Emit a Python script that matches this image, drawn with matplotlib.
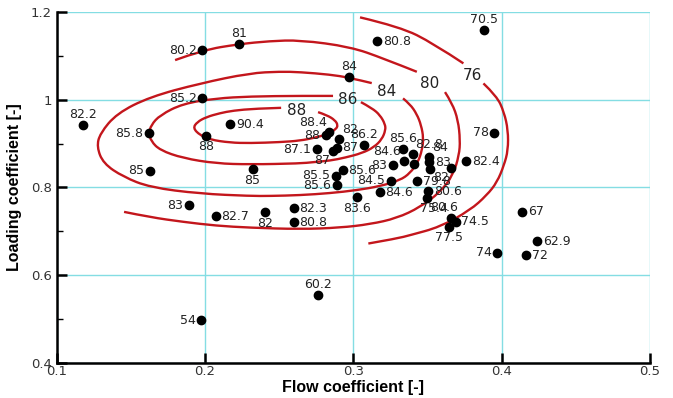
import matplotlib
matplotlib.use("Agg")
import matplotlib.pyplot as plt
from matplotlib.path import Path
from matplotlib.patches import PathPatch
from matplotlib.ticker import MultipleLocator, FormatStrFormatter, FuncFormatter

# measured points: flow coefficient, loading coefficient, efficiency label
phi = [0.388, 0.316, 0.297, 0.198, 0.223, 0.198, 0.1175, 0.162, 0.217, 0.2007,
       0.163, 0.232, 0.189, 0.2074, 0.2403, 0.2598, 0.2598,
       0.2838, 0.2814, 0.2906, 0.2753, 0.2888, 0.2861, 0.3072,
       0.2929, 0.2883, 0.2888, 0.3252, 0.3023, 0.318,
       0.3337, 0.340, 0.3342, 0.3266, 0.3406, 0.3511, 0.3513, 0.3517, 0.3659,
       0.376, 0.3949, 0.3432, 0.3506, 0.3499, 0.3657, 0.369, 0.3647,
       0.414, 0.424, 0.4165, 0.3971, 0.2762, 0.1973]
psi = [1.158, 1.133, 1.052, 1.113, 1.127, 1.003, 0.942, 0.923, 0.944, 0.917,
       0.838, 0.841, 0.759, 0.734, 0.743, 0.752, 0.721,
       0.926, 0.919, 0.910, 0.887, 0.890, 0.883, 0.897,
       0.839, 0.826, 0.805, 0.815, 0.777, 0.789,
       0.887, 0.877, 0.860, 0.851, 0.854, 0.870, 0.857, 0.843, 0.845,
       0.860, 0.925, 0.814, 0.791, 0.775, 0.730, 0.722, 0.710,
       0.744, 0.677, 0.645, 0.651, 0.554, 0.497]
eff = ["70.5", "80.8", "84", "80.2", "81", "85.2", "82.2", "85.8", "90.4", "88",
       "85", "85", "83", "82.7", "82", "82.3", "80.8",
       "88.4", "88", "82", "87.1", "87", "87", "86.2",
       "85.6", "85.5", "85.6", "84.5", "83.6", "84.6",
       "85.6", "82.8", "84.6", "83", "", "84", "83", "82", "",
       "82.4", "78", "79.8", "80.6", "80.6", "75.4", "74.5", "77.5",
       "67", "62.9", "72", "74", "60.2", "54"]
where = ["t", "r", "t", "l", "t", "l", "t", "l", "r", "b",
         "l", "b", "l", "r", "b", "r", "r",
         "tl", "l", "tr", "l", "r", "bl", "t",
         "r", "l", "l", "l", "b", "r",
         "t", "tr", "tl", "l", "", "tr", "r", "br", "",
         "r", "l", "r", "r", "br", "tl", "r", "b",
         "r", "r", "r", "l", "t", "l"]

c88_x = [0.2762, 0.2822, 0.2876, 0.2896, 0.2883, 0.2829, 0.2742, 0.2641, 0.2506, 0.2303,
         0.2168, 0.2034, 0.1966, 0.1919, 0.1946, 0.2007, 0.2101, 0.2189, 0.2337, 0.2513]
c88_y = [0.9717, 0.9648, 0.9534, 0.9420, 0.9329, 0.9215, 0.9135, 0.9066, 0.9032, 0.9009,
         0.9021, 0.9089, 0.9192, 0.9352, 0.9489, 0.9603, 0.9694, 0.9751, 0.9797, 0.9815]
c86_x = [0.3051, 0.3126, 0.3180, 0.3214, 0.3217, 0.3193, 0.3140, 0.3058, 0.2944, 0.2843,
         0.2728, 0.2641, 0.2303, 0.2074, 0.1851, 0.1696, 0.1636, 0.1622, 0.1636, 0.1696,
         0.1851, 0.2074, 0.2303, 0.2641, 0.2863]
c86_y = [0.9945, 0.9808, 0.9648, 0.9443, 0.9306, 0.9100, 0.8918, 0.8781, 0.8678, 0.8610,
         0.8575, 0.8546, 0.8523, 0.8546, 0.8667, 0.8849, 0.9055, 0.9237, 0.9420, 0.9648,
         0.9911, 1.0030, 1.0075, 1.0089, 1.0087]
c84_x = [0.3335, 0.3382, 0.3428, 0.3457, 0.3473, 0.3463, 0.3436, 0.3382, 0.3315, 0.3180,
         0.3023, 0.2843, 0.2641, 0.2439, 0.2303, 0.1966, 0.1629, 0.1449, 0.1314, 0.1270,
         0.1292, 0.1405, 0.1629, 0.1966, 0.2303, 0.2506, 0.2641, 0.2843, 0.2971, 0.3124]
c84_y = [1.0030, 0.9900, 0.9671, 0.9420, 0.9123, 0.8849, 0.8575, 0.8324, 0.8164, 0.8027,
         0.7936, 0.7868, 0.7822, 0.7804, 0.7804, 0.7856, 0.8000, 0.8240, 0.8546, 0.8925,
         0.9231, 0.9687, 1.0066, 1.0372, 1.0607, 1.0642, 1.0630, 1.0573, 1.0505, 1.0379]
c80a_x = [0.1454, 0.1629, 0.1854, 0.2074, 0.2303, 0.2641, 0.2910, 0.3113, 0.3293, 0.3450,
          0.3585, 0.3672, 0.3713, 0.3720, 0.3706, 0.3666, 0.3618]
c80a_y = [0.7441, 0.7320, 0.7212, 0.7126, 0.7080, 0.7046, 0.7080, 0.7160, 0.7297, 0.7548,
          0.7890, 0.8279, 0.8735, 0.9078, 0.9534, 0.9922, 1.0174]
c80b_x = [0.1798, 0.1984, 0.2229, 0.2436, 0.2641, 0.2978, 0.3202, 0.3428]
c80b_y = [1.0904, 1.1132, 1.1269, 1.1338, 1.1361, 1.1208, 1.0943, 1.0637]
c76a_x = [0.3045, 0.3315, 0.3539, 0.3742]
c76a_y = [1.1879, 1.1664, 1.1285, 1.0829]
c76b_x = [0.3877, 0.3967, 0.4016, 0.4043, 0.4043, 0.4016, 0.3969, 0.3900, 0.3787, 0.3585,
          0.3382, 0.3293, 0.3101]
c76b_y = [1.0372, 1.0082, 0.9717, 0.9306, 0.8849, 0.8507, 0.8119, 0.7822, 0.7479, 0.7098,
          0.6909, 0.6833, 0.6719]
iso_text = ["88", "86", "84", "80", "76"]
iso_x = [0.2619, 0.2961, 0.3225, 0.3517, 0.3805]
iso_y = [0.9751, 1.0007, 1.0180, 1.0372, 1.0562]

offs = {"r": (4, 0, "left", "center"), "l": (-4, 0, "right", "center"),
        "t": (0, 3, "center", "bottom"), "b": (0, -3, "center", "top"),
        "tl": (-2, 2, "right", "bottom"), "tr": (2, 2, "left", "bottom"),
        "bl": (-2, -2, "right", "top"), "br": (2, -2, "left", "top")}


def smooth_path(xs, ys):
    # quadratic bezier through the midpoints, traced points act as controls
    pts = list(zip(xs, ys))
    verts = [pts[0]]
    codes = [Path.MOVETO]
    for i in range(1, len(pts) - 1):
        nxt = pts[i + 1] if i == len(pts) - 2 else (
            (pts[i][0] + pts[i + 1][0]) / 2, (pts[i][1] + pts[i + 1][1]) / 2)
        verts += [pts[i], nxt]
        codes += [Path.CURVE3, Path.CURVE3]
    if len(pts) == 2:
        verts.append(pts[1])
        codes.append(Path.LINETO)
    return Path(verts, codes)


fig = plt.figure(figsize=(6.73, 3.98), dpi=100)
ax = fig.add_axes([0.0843, 0.0887, 0.8815, 0.881])

red = "#c3161c"
for xs, ys in [(c88_x, c88_y), (c86_x, c86_y), (c84_x, c84_y), (c80a_x, c80a_y),
               (c80b_x, c80b_y), (c76a_x, c76a_y), (c76b_x, c76b_y)]:
    ax.add_patch(PathPatch(smooth_path(xs, ys), fill=False, edgecolor=red,
                           lw=1.7, capstyle="butt", zorder=3))
for t, x, y in zip(iso_text, iso_x, iso_y):
    ax.text(x, y, t, fontsize=11, color="#222222", ha="center", va="center", zorder=4)

ax.plot(phi, psi, "o", color="black", ms=6, zorder=5)
for x, y, t, w in zip(phi, psi, eff, where):
    if not t:
        continue
    dx, dy, ha, va = offs[w]
    ax.annotate(t, (x, y), xytext=(dx, dy), textcoords="offset points",
                fontsize=9, color="#222222", ha=ha, va=va, zorder=6)

ax.set_xlim(0.1, 0.5)
ax.set_ylim(0.4, 1.2)
ax.xaxis.set_major_locator(MultipleLocator(0.1))
ax.yaxis.set_major_locator(MultipleLocator(0.2))
ax.yaxis.set_minor_locator(MultipleLocator(0.1))
ax.xaxis.set_major_formatter(FormatStrFormatter("%.1f"))
ax.yaxis.set_major_formatter(FuncFormatter(lambda v, p: "%g" % round(v, 2)))
ax.grid(True, which="major", color="#84dde3", lw=1.0, zorder=0)
ax.spines["top"].set_visible(False)
ax.spines["right"].set_visible(False)
ax.spines["left"].set_linewidth(1.8)
ax.spines["bottom"].set_linewidth(1.8)
ax.tick_params(which="major", direction="in", length=7, width=1.8,
               labelsize=9.5, labelcolor="#333333")
ax.tick_params(which="minor", direction="in", length=4, width=1)
ax.tick_params(axis="x", pad=2)

lab_font = {"family": ["Liberation Sans Narrow", "Liberation Sans", "DejaVu Sans"],
            "weight": "bold", "size": 11.5}
ax.set_xlabel("Flow coefficient [-]", fontdict=lab_font, labelpad=1)
ax.set_ylabel("Loading coefficient [-]", fontdict=lab_font, labelpad=6)

fig.savefig("out.png", dpi=100)
